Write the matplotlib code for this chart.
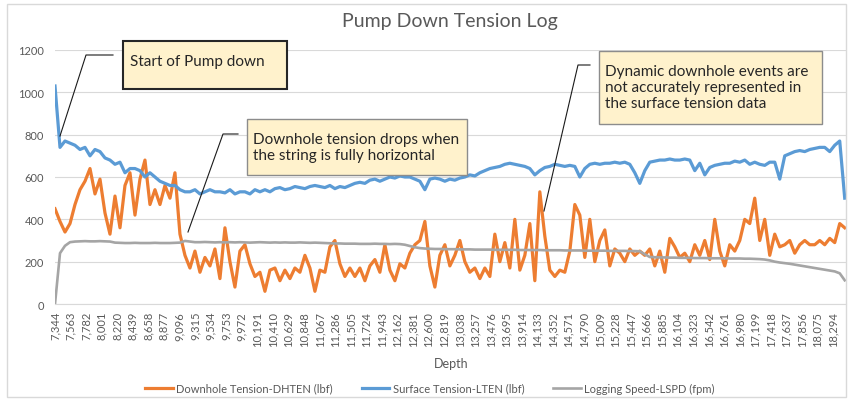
import numpy as np
import matplotlib
matplotlib.use("Agg")
import matplotlib.pyplot as plt
from matplotlib.patches import Rectangle
from matplotlib.lines import Line2D

plt.rcParams['font.family'] = ['Lato', 'DejaVu Sans']

# ---------------- data ----------------
depth_start = 7344
depth_end = 18459
tick_step = 219
tick_depths = list(range(7344, 18295, tick_step))

downhole = [
    450, 390, 340, 380, 470, 540, 580, 640, 520, 590,
    430, 330, 510, 360, 560, 620, 420, 590, 680, 470,
    540, 470, 560, 500, 620, 330, 230, 170, 250, 150,
    220, 180, 260, 120, 360, 200, 80, 250, 280, 190,
    130, 150, 60, 160, 170, 110, 160, 120, 170, 150,
    230, 170, 60, 160, 150, 270, 300, 190, 130, 170,
    130, 170, 110, 180, 210, 150, 280, 160, 110, 190,
    170, 240, 280, 300, 390, 180, 80, 230, 280, 180,
    230, 300, 200, 150, 170, 120, 170, 130, 330, 200,
    290, 170, 400, 160, 230, 380, 110, 530, 320, 160,
    130, 160, 150, 250, 470, 420, 220, 400, 200, 300,
    350, 180, 260, 240, 200, 260, 230, 250, 230, 260,
    180, 250, 150, 310, 270, 220, 240, 200, 280, 230,
    300, 210, 400, 250, 180, 280, 250, 300, 400, 380,
    500, 300, 400, 230, 330, 270, 280, 300, 240, 280,
    300, 280, 280, 300, 280, 310, 290, 380, 360,
]

surface = [
    1030, 740, 770, 760, 750, 730, 740, 700, 730, 720,
    690, 680, 660, 670, 620, 640, 640, 630, 600, 620,
    600, 580, 570, 560, 560, 540, 530, 530, 540, 520,
    530, 540, 530, 530, 525, 540, 520, 530, 530, 520,
    540, 530, 540, 530, 545, 550, 540, 545, 555, 550,
    545, 555, 560, 555, 550, 560, 545, 555, 550, 560,
    570, 575, 570, 585, 590, 580, 590, 600, 595, 605,
    600, 600, 590, 580, 540, 590, 595, 590, 580, 590,
    585, 595, 600, 610, 605, 620, 630, 640, 645, 650,
    660, 665, 660, 655, 650, 640, 610, 630, 645, 650,
    660, 655, 650, 655, 650, 600, 640, 660, 665, 660,
    665, 665, 670, 665, 670, 660, 620, 570, 630, 670,
    675, 680, 680, 685, 680, 680, 685, 680, 630, 665,
    610, 645, 655, 660, 665, 665, 675, 670, 680, 660,
    670, 660, 655, 670, 670, 590, 700, 710, 720, 725,
    720, 730, 735, 740, 740, 720, 750, 770, 500,
]

speed = [
    0, 240, 275, 292, 295, 296, 297, 296, 296, 297,
    296, 295, 290, 289, 288, 288, 289, 288, 288, 288,
    289, 288, 288, 288, 289, 290, 298, 295, 292, 292,
    293, 292, 291, 292, 291, 292, 291, 292, 291, 290,
    291, 292, 291, 290, 291, 290, 291, 290, 290, 291,
    290, 289, 290, 289, 288, 287, 286, 286, 285, 285,
    285, 284, 284, 284, 285, 284, 284, 283, 284, 283,
    280, 274, 268, 264, 262, 261, 260, 260, 259, 259,
    259, 258, 258, 258, 257, 257, 257, 257, 256, 256,
    256, 256, 256, 255, 255, 255, 255, 255, 254, 254,
    254, 254, 253, 253, 253, 253, 252, 252, 252, 252,
    252, 251, 251, 251, 251, 250, 250, 249, 235, 222,
    221, 220, 220, 219, 219, 218, 218, 218, 217, 217,
    217, 216, 216, 216, 216, 215, 215, 215, 214, 214,
    213, 212, 210, 206, 200, 196, 193, 190, 186, 182,
    178, 174, 170, 166, 162, 158, 154, 145, 112,
]

series_labels = ["Downhole Tension-DHTEN (lbf)", "Surface Tension-LTEN (lbf)",
                 "Logging Speed-LSPD (fpm)"]
series_colors = ["#ED7D31", "#5B9BD5", "#A5A5A5"]

# ---------------- figure ----------------
W, H = 848, 402
fig = plt.figure(figsize=(W / 100, H / 100), dpi=100)


def fx(px):
    return px / W


def fy(py):
    return 1 - py / H


ax_left, ax_right, ax_top, ax_bot = 55, 846, 51, 305
ax = fig.add_axes([fx(ax_left), fy(ax_bot), (ax_right - ax_left) / W, (ax_bot - ax_top) / H])

txt = "#595959"
handles = []
for vals, lab, col, lw in zip([downhole, surface, speed], series_labels, series_colors,
                              [2.3, 2.3, 1.9]):
    d = np.linspace(depth_start, depth_end, len(vals))
    h, = ax.plot(d, vals, color=col, lw=lw, label=lab, solid_joinstyle='round')
    handles.append(h)

ft_per_px = tick_step / 15.56
ax.set_xlim(depth_start, depth_start + (ax_right - ax_left) * ft_per_px)
ax.set_ylim(0, 1200)
ax.set_yticks(range(0, 1201, 200))
ax.set_xticks(tick_depths)
ax.set_xticklabels([f"{d:,}" for d in tick_depths], rotation=90, fontsize=8, color=txt)
ax.tick_params(axis='x', length=0, pad=5)
ax.tick_params(axis='y', length=0, pad=8, labelsize=8, labelcolor=txt)
for s in ['top', 'right', 'left']:
    ax.spines[s].set_visible(False)
ax.spines['bottom'].set_color('#d9d9d9')
ax.yaxis.grid(True, color='#d9d9d9', lw=0.8)
ax.set_axisbelow(True)

# titles
fig.text(fx(450), fy(22), "Pump Down Tension Log", ha='center', va='center',
         fontsize=14, color=txt)
fig.text(fx(451), fy(364), "Depth", ha='center', va='center', fontsize=9, color=txt)

fig.legend(handles, series_labels, loc='center', bbox_to_anchor=(fx(430), fy(389)),
           ncol=3, frameon=False, fontsize=8, handlelength=2.5, handletextpad=0.3,
           columnspacing=2.6, labelcolor=txt)

# chart border
fig.add_artist(Rectangle((fx(7), fy(398)), (846 - 7) / W, (398 - 5) / H,
                         transform=fig.transFigure, fc='none', ec='#d9d9d9', lw=1))

# callouts
callouts = [
    dict(box=(123, 42, 287, 90), ec='#262626', lw=1.5,
         text="Start of Pump down", tx=130, ty=62, ls=1.1,
         leader=([113, 86, 60], [56, 56, 137])),
    dict(box=(247, 120, 467, 176), ec='#8c8c8c', lw=1.0,
         text="Downhole tension drops when\nthe string is fully horizontal",
         tx=253, ty=148, ls=1.1,
         leader=([238, 223, 188], [135, 135, 233])),
    dict(box=(599, 52, 822, 125), ec='#8c8c8c', lw=1.0,
         text="Dynamic downhole events are\nnot accurately represented in\nthe surface tension data",
         tx=605, ty=88, ls=1.18,
         leader=([590, 578, 544], [66, 66, 212])),
]
for c in callouts:
    x0, y0, x1, y1 = c['box']
    fig.add_artist(Rectangle((fx(x0), fy(y1)), (x1 - x0) / W, (y1 - y0) / H,
                             transform=fig.transFigure, fc='#FFF2CC', ec=c['ec'],
                             lw=c['lw'], zorder=5))
    fig.text(fx(c['tx']), fy(c['ty']), c['text'], ha='left', va='center', fontsize=11,
             color='#262626', linespacing=c['ls'], zorder=6)
    lx, ly = c['leader']
    fig.add_artist(Line2D([fx(v) for v in lx], [fy(v) for v in ly],
                          transform=fig.transFigure, color='#1a1a1a', lw=0.8, zorder=5))

fig.savefig('out.png', dpi=100)
